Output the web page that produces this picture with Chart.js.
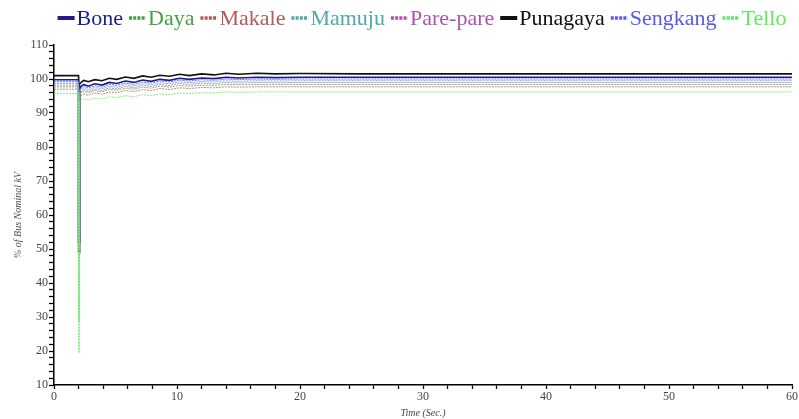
<!DOCTYPE html>
<html>
<head>
<meta charset="utf-8">
<script src="https://cdn.jsdelivr.net/npm/chart.js@4/dist/chart.umd.min.js"></script>
<style>
	html, body { margin: 0; padding: 0; background: #fff; }
	#wrap { width: 799px; height: 419px; position: relative; }
</style>
</head>
<body>
<div id="wrap"><canvas id="busChart"></canvas></div>
<script>
// time axis (seconds), fault at t = 2 s
const times = [0, 2, 2, 2.08, 2.08, 2.4, 2.8, 3.3, 3.9, 4.5, 5.1, 5.8, 6.5, 7.2, 7.9, 8.6, 9.4, 10.2, 11, 12, 13, 14, 15, 16.5, 18, 20, 25, 30, 40, 50, 60];

const buses = ["Bone", "Daya", "Makale", "Mamuju", "Pare-pare", "Punagaya", "Sengkang", "Tello"];

const bone      = [99.8, 99.8, 52, 52, 97.4, 98.4, 97.9, 98.6, 98.2, 99.0, 98.7, 99.4, 99.0, 99.7, 99.3, 99.9, 99.6, 100.2, 99.9, 100.3, 100.1, 100.5, 100.3, 100.5, 100.4, 100.5, 100.5, 100.5, 100.5, 100.5, 100.5];
const daya      = [97.7, 97.7, 29, 29, 95.5, 96.4, 95.9, 96.6, 96.2, 97.0, 96.7, 97.3, 97.0, 97.6, 97.3, 97.9, 97.6, 98.1, 97.9, 98.2, 98.1, 98.4, 98.3, 98.4, 98.4, 98.4, 98.4, 98.4, 98.4, 98.4, 98.4];
const makale    = [97.0, 97.0, 50, 50, 94.8, 95.6, 95.2, 95.9, 95.5, 96.2, 96.0, 96.6, 96.3, 96.9, 96.6, 97.2, 96.9, 97.4, 97.2, 97.5, 97.4, 97.7, 97.6, 97.7, 97.7, 97.7, 97.7, 97.7, 97.7, 97.7, 97.7];
const mamuju    = [98.7, 98.7, 55, 55, 96.4, 97.3, 96.8, 97.5, 97.1, 97.9, 97.6, 98.3, 97.9, 98.6, 98.3, 98.9, 98.6, 99.2, 98.9, 99.3, 99.1, 99.5, 99.3, 99.5, 99.4, 99.5, 99.5, 99.5, 99.5, 99.5, 99.5];
const parepare  = [98.2, 98.2, 53, 53, 95.9, 96.8, 96.3, 97.0, 96.6, 97.4, 97.1, 97.8, 97.4, 98.1, 97.8, 98.4, 98.1, 98.7, 98.4, 98.8, 98.6, 99.0, 98.8, 99.0, 98.9, 99.0, 99.0, 99.0, 99.0, 99.0, 99.0];
const punagaya  = [101.0, 101.0, 49, 49, 98.6, 99.6, 99.2, 99.8, 99.5, 100.2, 99.9, 100.6, 100.2, 100.9, 100.5, 101.1, 100.8, 101.4, 101.0, 101.5, 101.2, 101.7, 101.4, 101.7, 101.5, 101.6, 101.5, 101.5, 101.5, 101.5, 101.5];
const sengkang  = [99.2, 99.2, 54, 54, 96.9, 97.8, 97.3, 98.0, 97.6, 98.4, 98.1, 98.8, 98.4, 99.1, 98.8, 99.4, 99.1, 99.7, 99.4, 99.8, 99.6, 100.0, 99.8, 100.0, 99.9, 100.0, 100.0, 100.0, 100.0, 100.0, 100.0];
const tello     = [95.7, 95.7, 19.5, 19.5, 93.4, 94.2, 93.8, 94.4, 94.1, 94.8, 94.5, 95.1, 94.8, 95.4, 95.1, 95.6, 95.4, 95.9, 95.7, 96.0, 95.9, 96.2, 96.1, 96.2, 96.2, 96.2, 96.2, 96.2, 96.2, 96.2, 96.2];

const seriesValues = [bone, daya, makale, mamuju, parepare, punagaya, sengkang, tello];
const lineColors  = ["#1c1c8f", "#6cc06c", "#c88080", "#70b8d0", "#c080d0", "#111111", "#6a6af0", "#7cf07c"];
const labelColors = ["#1c1c8f", "#44a044", "#b05a5a", "#50a8a8", "#aa55aa", "#111111", "#5a5aee", "#5ee85e"];
const dotted = [false, true, true, true, true, false, true, true];
// lower order is drawn on top: greens over the rest at the fault dip
const drawOrder = [5, 1, 4, 2, 3, 6, 3, 0];

const serif = "'Liberation Serif', 'Times New Roman', serif";

function toPoints(vals) {
	return vals.map((v, i) => ({x: times[i], y: v}));
}

const datasets = buses.map((name, i) => ({
	label: name,
	data: toPoints(seriesValues[i]),
	borderColor: lineColors[i],
	backgroundColor: labelColors[i],
	borderWidth: dotted[i] ? 1 : 1.6,
	borderDash: dotted[i] ? [2, 1] : [],
	pointRadius: 0,
	tension: 0,
	order: drawOrder[i]
}));

// legend drawn by hand in one tight row (the built-in one wraps)
const tightLegend = {
	id: 'tightLegend',
	afterDraw(chart) {
		const ctx = chart.ctx;
		const boxW = 17, gapBox = 2, gapItem = 6;
		ctx.save();
		ctx.font = "22px " + serif;
		let total = 0;
		const widths = chart.data.datasets.map(ds => ctx.measureText(ds.label).width);
		widths.forEach(w => total += boxW + gapBox + w + gapItem);
		total -= gapItem;
		let x = 422 - total / 2;
		const y = 18;
		chart.data.datasets.forEach((ds, i) => {
			ctx.beginPath();
			ctx.strokeStyle = labelColors[i];
			ctx.lineWidth = dotted[i] ? 3.5 : 4;
			ctx.setLineDash(dotted[i] ? [3, 1.2] : []);
			ctx.moveTo(x, y);
			ctx.lineTo(x + boxW, y);
			ctx.stroke();
			ctx.setLineDash([]);
			x += boxW + gapBox;
			ctx.fillStyle = labelColors[i];
			ctx.textBaseline = 'middle';
			ctx.textAlign = 'left';
			ctx.fillText(ds.label, x, y + 1);
			x += widths[i] + gapItem;
		});
		ctx.restore();
	}
};

new Chart(document.getElementById("busChart"), {
	type: 'line',
	data: { datasets: datasets },
	plugins: [tightLegend],
	options: {
		responsive: true,
		maintainAspectRatio: false,
		animation: false,
		layout: { padding: { left: 0, right: 6, top: 0, bottom: 0 } },
		plugins: {
			tooltip: { enabled: false },
			legend: { display: false },
			// empty title only reserves the strip where the legend goes
			title: {
				display: true,
				text: ' ',
				font: { size: 20, lineHeight: 1 },
				padding: { top: 0, bottom: 25 }
			}
		},
		scales: {
			x: {
				type: 'linear',
				min: 0,
				max: 60,
				border: { color: '#000', width: 1.5 },
				grid: { drawOnChartArea: false, tickLength: 4, tickColor: '#000', tickWidth: 1.3 },
				ticks: {
					stepSize: 2,
					autoSkip: false,
					maxRotation: 0,
					padding: 1,
					color: '#444',
					font: { family: serif, size: 12 },
					callback: v => (v % 10 === 0 ? v : '')
				},
				title: {
					display: true,
					text: 'Time (Sec.)',
					color: '#444',
					padding: { top: 0, bottom: 0 },
					font: { family: serif, size: 10, style: 'italic' }
				},
				afterFit(scale) { scale.height = 34; }
			},
			y: {
				min: 10,
				max: 110,
				border: { color: '#000', width: 1.5 },
				grid: { drawOnChartArea: false, tickLength: 5, tickColor: '#000', tickWidth: 1.3 },
				ticks: {
					stepSize: 2,
					autoSkip: false,
					padding: 1,
					color: '#444',
					font: { family: serif, size: 12 },
					callback: v => (v % 10 === 0 ? v : '')
				},
				title: {
					display: true,
					text: '% of Bus Nominal kV',
					color: '#555',
					padding: { top: 12, bottom: 0 },
					font: { family: serif, size: 10, style: 'italic' }
				},
				afterFit(scale) { scale.width = 54; }
			}
		}
	}
});
</script>
</body>
</html>
